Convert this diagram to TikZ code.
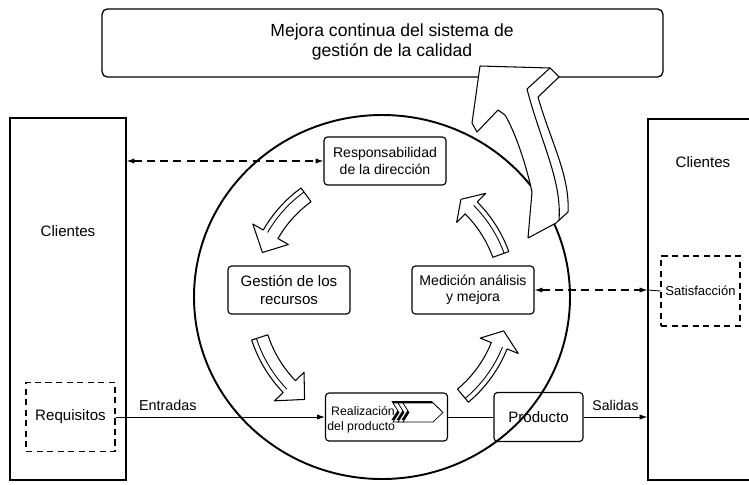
\documentclass[tikz,border=0pt]{standalone}
\usepackage{fontspec}
\setmainfont{Liberation Sans}
\usetikzlibrary{arrows.meta}
\newcommand{\ringarrow}[3]{%
  \filldraw[ribbon] plot[domain=#1:#2,samples=10] (\x:136) -- (#2:148) -- (#3:127)
    -- (#2:107) -- plot[domain=#2:#1,samples=10] (\x:119) -- cycle;
  \draw[line width=0.5pt] plot[domain=#1:#2,samples=10] (\x:131);}
\tikzset{
  rbox/.style={draw,line width=0.65pt,rounded corners=2pt,minimum width=2.44cm,
    minimum height=0.96cm,inner sep=1pt,align=center},
  txtbig/.style={font=\fontsize{8.6}{10.2}\selectfont},
  txtsmall/.style={font=\fontsize{8}{9.3}\selectfont},
  dbox/.style={draw,line width=0.6pt,inner sep=0pt,dash pattern=on 3.5pt off 2.5pt},
  flow/.style={line width=0.5pt,-{Latex[length=4.5pt,width=3pt]}},
  link/.style={line width=0.6pt,dash pattern=on 4.5pt off 3pt,
    {Latex[length=4.5pt,width=3pt]}-{Latex[length=4.5pt,width=3pt]}},
  ribbon/.style={draw,fill=white,line width=0.6pt,line join=round}
}
\begin{document}
\begin{tikzpicture}[x=0.02cm,y=-0.02cm]
\useasboundingbox (0,0) rectangle (749,484);
\clip (0,0) rectangle (749,484);

\node[draw,rounded corners=3pt,line width=0.75pt,minimum width=11.22cm,minimum height=1.36cm]
  (mejora) at (382.5,43) {};
\node[align=center,font=\fontsize{10}{11.4}\selectfont] (mejoratxt) at (392,42)
  {Mejora continua del sistema de\\gestión de la calidad};

\node[draw,line width=0.65pt,minimum width=2.32cm,minimum height=7.24cm] (cliL) at (68,299) {};
\node[txtbig] (cliLtxt) at (68,231) {Clientes};
\node[dbox,txtbig,minimum width=1.78cm,minimum height=1.38cm] (req) at (70.5,417) {Requisitos};

\node[draw,line width=0.65pt,minimum width=2.44cm,minimum height=7.22cm] (cliR) at (709,299.5) {};
\node[txtbig] (cliRtxt) at (703,162) {Clientes};
\node[dbox,minimum width=1.58cm,minimum height=1.4cm,font=\fontsize{7.4}{9}\selectfont]
  (sat) at (700.5,291) {Satisfacción};

\draw[line width=1.1pt] (382,297) ellipse [x radius=188, y radius=182];

\filldraw[ribbon] (480,66) -- (550,68) -- (559,77) -- (538,97)
  .. controls (550,140) and (570,175) .. (568,212) -- (556,223) -- (528,238) -- (532,192)
  .. controls (525,160) and (514,130) .. (505,115) -- (498,110) -- (477,132) -- (472,123) -- cycle;
\draw[line width=0.6pt] (550,68) -- (527,89) .. controls (540,140) and (562,180) .. (559,220);

\node[rbox,txtsmall] (resp) at (385,161) {Responsabilidad\\de la dirección};
\node[rbox,txtbig] (gest) at (289,290) {Gestión de los\\recursos};
\node[rbox,txtsmall] (med) at (473,290) {Medición análisis\\y mejora};
\node[rbox] (real) at (386.5,417) {};
\node[anchor=west,align=left,inner sep=0pt,font=\fontsize{7}{8.5}\selectfont] (realtxt)
  at (327,420) {\hspace*{2.2pt}Realización\\del producto};
\node[rbox,txtbig,minimum width=1.78cm,minimum height=0.98cm] (prod) at (538.5,417) {Producto};

\begin{scope}[line width=0.4pt]
\foreach \s in {0,5} {
  \fill[shift={(\s-1.5,-2)}] (393,403) -- (399,403) -- (405,412.5) -- (399,422) -- (393,422) -- (399,412.5) -- cycle;
  \filldraw[fill=white,shift={(\s,0)}] (393,403) -- (399,403) -- (405,412.5) -- (399,422) -- (393,422) -- (399,412.5) -- cycle;
}
\fill[shift={(-1.5,-2)}] (403,403) -- (433,403) -- (443,412.5) -- (433,422) -- (403,422) -- (409,412.5) -- cycle;
\filldraw[fill=white] (403,403) -- (433,403) -- (443,412.5) -- (433,422) -- (403,422) -- (409,412.5) -- cycle;
\end{scope}

\begin{scope}[shift={(381,298)}]
\ringarrow{234}{210}{201}
\ringarrow{162}{136}{127}
\ringarrow{50}{22}{15}
\ringarrow{340}{315}{309}
\end{scope}

\coordinate (satin) at (med.east -| cliR.west);
\draw[link] (cliL.east |- resp.west) -- (resp.west);
\draw[link] (med.east) -- (satin);
\draw[line width=0.5pt] (satin) -- (sat.west);
\draw[flow] (req.east) -- node[above,pos=0.25,font=\fontsize{8.2}{10}\selectfont] {Entradas} (real.west);
\draw[line width=0.5pt] (real.east) -- (prod.west);
\draw[flow] (prod.east) -- node[above,txtsmall] {Salidas} (prod.east -| cliR.west);
\end{tikzpicture}
\end{document}
